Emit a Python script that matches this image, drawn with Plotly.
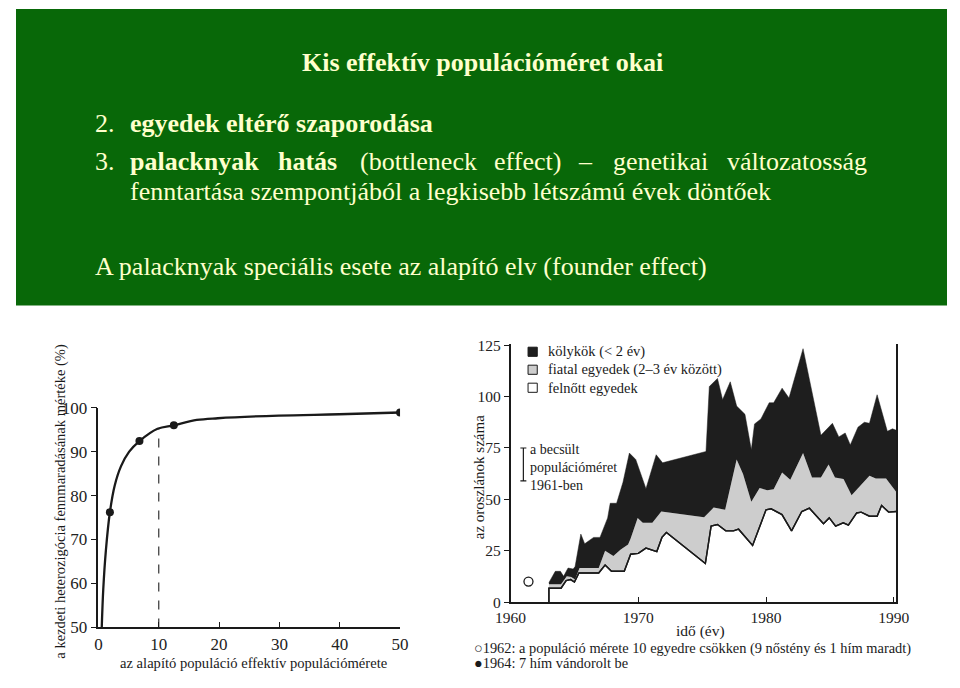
import plotly.graph_objects as go

W, H = 960, 688
SERIF = "Liberation Serif, Times New Roman, serif"
INK = "#1a1a1a"
TXT = "#ffffcc"
GREEN = "#086808"

# ---------------- left chart data ----------------
ne_curve = [0.55, 0.8, 1.24, 1.9, 2.7, 3.75, 5.1, 6.8, 9.8, 12.5, 16.3, 19.8, 29.9, 39.9, 50]
het_curve = [50, 58.7, 67.6, 76.2, 82.3, 86.7, 90.0, 92.4, 95.2, 96.0, 97.2, 97.6, 98.2, 98.5, 98.9]
ne_points = [1.9, 6.8, 12.5, 50]
het_points = [76.2, 92.4, 96.0, 98.9]
dashed_x = [10, 10]
dashed_y = [50, 95.2]
left_xticks = [0, 10, 20, 30, 40, 50]
left_yticks = [50, 60, 70, 80, 90, 100]

# ---------------- right chart data ----------------
adult_years = [1963.0, 1963.0, 1963.95, 1964.35, 1964.7, 1965.0, 1965.35, 1966.9, 1967.4, 1967.9,
               1968.9, 1969.4, 1970.0, 1970.6, 1971.45, 1971.85, 1972.2, 1975.25, 1975.7, 1976.2,
               1976.85, 1977.45, 1977.85, 1978.95, 1980.0, 1980.4, 1981.25, 1982.0, 1982.8, 1983.4,
               1984.5, 1984.95, 1985.45, 1986.05, 1986.45, 1987.1, 1987.45, 1988.1, 1988.7, 1989.05,
               1989.6, 1990.2]
adult_vals = [0, 6.8, 6.8, 10.5, 11.0, 9.8, 14.2, 14.2, 18.1, 15.0,
              15.0, 23.3, 23.7, 26.3, 24.6, 31.5, 33.9, 18.8, 37.0, 37.8,
              34.7, 34.7, 35.5, 27.6, 44.9, 45.4, 42.6, 34.7, 44.1, 45.7,
              38.2, 41.0, 37.0, 38.6, 37.5, 43.4, 43.8, 41.8, 41.8, 47.0,
              43.8, 44.1]

young_cum_years = [1963.0, 1963.95, 1964.4, 1964.75, 1965.05, 1965.4, 1966.9, 1967.4, 1968.05, 1968.6,
                   1969.2, 1969.4, 1969.95, 1970.35, 1971.1, 1971.8, 1975.15, 1975.9, 1976.8, 1977.7,
                   1978.2, 1978.85, 1979.5, 1980.1, 1980.6, 1981.26, 1981.9, 1982.9, 1983.6, 1984.3,
                   1984.9, 1985.4, 1986.07, 1986.7, 1988.1, 1988.6, 1989.4, 1990.2]
young_cum_vals = [8.7, 8.7, 12.6, 12.2, 11.0, 16.6, 16.6, 25.0, 22.5, 25.5,
                  28.0, 31.0, 41.0, 38.6, 38.6, 44.1, 41.3, 46.0, 44.9, 69.4,
                  62.3, 48.9, 55.5, 54.4, 54.9, 63.1, 59.6, 72.5, 60.7, 60.7,
                  67.0, 60.7, 59.9, 52.0, 61.5, 60.2, 60.2, 53.6]

total_years = [1963.0, 1963.5, 1963.9, 1964.15, 1964.5, 1964.9, 1965.05, 1965.5, 1965.8, 1966.2,
               1966.5, 1967.0, 1967.6, 1967.8, 1968.3, 1968.8, 1969.3, 1969.8, 1970.6, 1971.4,
               1971.9, 1975.3, 1975.56, 1976.2, 1976.6, 1977.2, 1977.7, 1978.35, 1978.85, 1979.1,
               1979.6, 1980.25, 1980.6, 1981.26, 1981.8, 1982.9, 1984.3, 1985.2, 1985.7, 1986.2,
               1986.6, 1987.2, 1987.7, 1988.1, 1988.7, 1989.5, 1989.9, 1990.2]
total_vals = [9.5, 15.0, 15.0, 12.6, 16.6, 16.1, 17.3, 33.1, 28.4, 30.0,
              31.5, 31.5, 41.0, 48.1, 48.1, 58.3, 72.5, 69.4, 55.2, 71.7,
              67.8, 73.3, 104.9, 108.8, 98.5, 107.2, 95.4, 91.4, 74.1, 86.7,
              89.1, 97.0, 97.0, 104.1, 99.3, 123.3, 81.2, 87.0, 80.4, 82.3,
              76.5, 85.1, 87.5, 87.0, 100.9, 83.1, 84.3, 83.6]

pop1962_year = [1961.4]
pop1962_val = [10]
est1961_year = [1961.0]
est1961_mid = [67]
est1961_half = [8]
right_xticks = [1960, 1970, 1980, 1990]
right_yticks = [0, 25, 50, 75, 100, 125]

legend_labels = ["kölykök (< 2 év)", "fiatal egyedek (2–3 év között)", "felnőtt egyedek"]
legend_colors = ["#1e1e1e", "#cdcdcd", "#ffffff"]


def px(x):
    return x / W


def py(y):
    return 1 - y / H


fig = go.Figure()

# left chart
fig.add_trace(go.Scatter(x=dashed_x, y=dashed_y, mode="lines", xaxis="x", yaxis="y",
                         line=dict(color="#333", width=1.2, dash="dash"), hoverinfo="skip"))
fig.add_trace(go.Scatter(x=ne_curve, y=het_curve, mode="lines", xaxis="x", yaxis="y",
                         line=dict(color=INK, width=2.3, shape="spline", smoothing=1.0)))
fig.add_trace(go.Scatter(x=ne_points, y=het_points, mode="markers", xaxis="x", yaxis="y",
                         marker=dict(color=INK, size=8)))

# right chart (stacked boundaries)
fig.add_trace(go.Scatter(x=adult_years, y=adult_vals, mode="lines", xaxis="x2", yaxis="y2",
                         line=dict(color=INK, width=1.4)))
fig.add_trace(go.Scatter(x=young_cum_years, y=young_cum_vals, mode="lines", xaxis="x2", yaxis="y2",
                         fill="tonexty", fillcolor=legend_colors[1], line=dict(width=0, color=legend_colors[1])))
fig.add_trace(go.Scatter(x=total_years, y=total_vals, mode="lines", xaxis="x2", yaxis="y2",
                         fill="tonexty", fillcolor=legend_colors[0], line=dict(width=0.5, color=legend_colors[0])))
fig.add_trace(go.Scatter(x=adult_years, y=adult_vals, mode="lines", xaxis="x2", yaxis="y2",
                         line=dict(color=INK, width=1.4)))
fig.add_trace(go.Scatter(x=pop1962_year, y=pop1962_val, mode="markers", xaxis="x2", yaxis="y2",
                         marker=dict(symbol="circle-open", size=9, color=INK, line=dict(width=1.3))))
fig.add_trace(go.Scatter(x=est1961_year, y=est1961_mid, mode="markers", xaxis="x2", yaxis="y2",
                         marker=dict(size=1, color="rgba(0,0,0,0)"),
                         error_y=dict(type="data", array=est1961_half, color=INK, thickness=1.2, width=3)))

axis_common = dict(showgrid=False, zeroline=False, showline=True, linecolor=INK, linewidth=1.5,
                   tickcolor=INK, tickwidth=1.3, fixedrange=True)
left_font = dict(family=SERIF, size=17, color="#222")
right_font = dict(family=SERIF, size=15.5, color="#222")

fig.update_layout(
    width=W, height=H, autosize=False, margin=dict(l=0, r=0, t=0, b=0, pad=0),
    paper_bgcolor="white", plot_bgcolor="rgba(0,0,0,0)", showlegend=False,
    xaxis=dict(domain=[px(85), px(396)], range=[0, 50], anchor="y", tickvals=left_xticks,
               ticks="inside", ticklen=6, tickfont=left_font, **axis_common),
    yaxis=dict(domain=[py(636), py(410)], range=[50, 100], anchor="x", tickvals=left_yticks,
               ticks="outside", ticklen=6, tickfont=left_font, **axis_common),
    xaxis2=dict(domain=[px(510), px(907.7)], range=[1960, 1990.2], anchor="y2", tickvals=right_xticks,
                ticks="inside", ticklen=5, tickfont=right_font, **axis_common),
    yaxis2=dict(domain=[py(610), py(344.7)], range=[0, 125.5], anchor="x2", tickvals=right_yticks,
                ticks="outside", ticklen=5, mirror=True, tickfont=right_font, **axis_common),
)

shapes = [dict(type="rect", xref="paper", yref="paper", x0=0, x1=1, y0=py(305), y1=1,
               fillcolor=GREEN, line=dict(width=0), layer="below")]
for i, c in enumerate(legend_colors):
    yc = [352.5, 371, 389.5][i]
    shapes.append(dict(type="rect", xref="paper", yref="paper", x0=px(528), x1=px(537.5),
                       y0=py(yc + 4.7), y1=py(yc - 4.7), fillcolor=c, line=dict(color=INK, width=1)))
fig.update_layout(shapes=shapes)

ann = []


def add(text, x, y, size, color, anchor="left", bold=False, angle=0, family=SERIF):
    if bold:
        text = "<b>" + text + "</b>"
    ann.append(dict(text=text, x=px(x), y=py(y), xref="paper", yref="paper", showarrow=False,
                    xanchor=anchor, yanchor="middle", textangle=angle, align="left",
                    font=dict(family=family, size=size, color=color)))


BF = 26
# banner text
add("Kis effektív populációméret okai", 481, 55, BF, TXT, "center", bold=True)
add("2.", 79, 118, BF, TXT)
add("egyedek eltérő szaporodása", 116, 118, BF, TXT, bold=True)
add("3.", 79, 157, BF, TXT)
add("palacknyak", 116, 157, BF, TXT, bold=True)
add("hatás", 268, 157, BF, TXT, bold=True)
for word, xw in [("(bottleneck", 353), ("effect)", 491), ("–", 577), ("genetikai", 614), ("változatosság", 731)]:
    add(word, xw, 157, BF, TXT)
add("fenntartása szempontjából a legkisebb létszámú évek döntőek", 116, 188, BF, TXT)
add("A palacknyak speciális esete az alapító elv (founder effect)", 79, 265, BF, TXT)

# left chart titles
add("a kezdeti heterozigócia fennmaradásának mértéke (%)", 45, 506, 14.5, INK, "center", angle=-90)
add("az alapító populáció effektív populációmérete", 245, 673, 14.6, INK, "center")

# right chart texts
for i, lab in enumerate(legend_labels):
    add(lab, 546, [352.5, 371, 389.5][i], 14.5, INK)
add("a becsült<br>populációméret<br>1961-ben", 528, 471.5, 14, INK)
add("az oroszlánok száma", 477, 482, 15, INK, "center", angle=-90)
add("idő (év)", 706, 640, 15.5, INK, "center")
add("○1962: a populáció mérete 10 egyedre csökken (9 nőstény és 1 hím maradt)", 470, 658, 14.4, INK)
add("●1964: 7 hím vándorolt be", 470, 673, 14.4, INK)

fig.update_layout(annotations=ann)
fig.write_html(
    "out.html",
    config={"responsive": False, "displayModeBar": False},
    default_width="960px", default_height="688px",
    post_script="document.body.style.margin='0';document.body.style.overflow='hidden';",
)
